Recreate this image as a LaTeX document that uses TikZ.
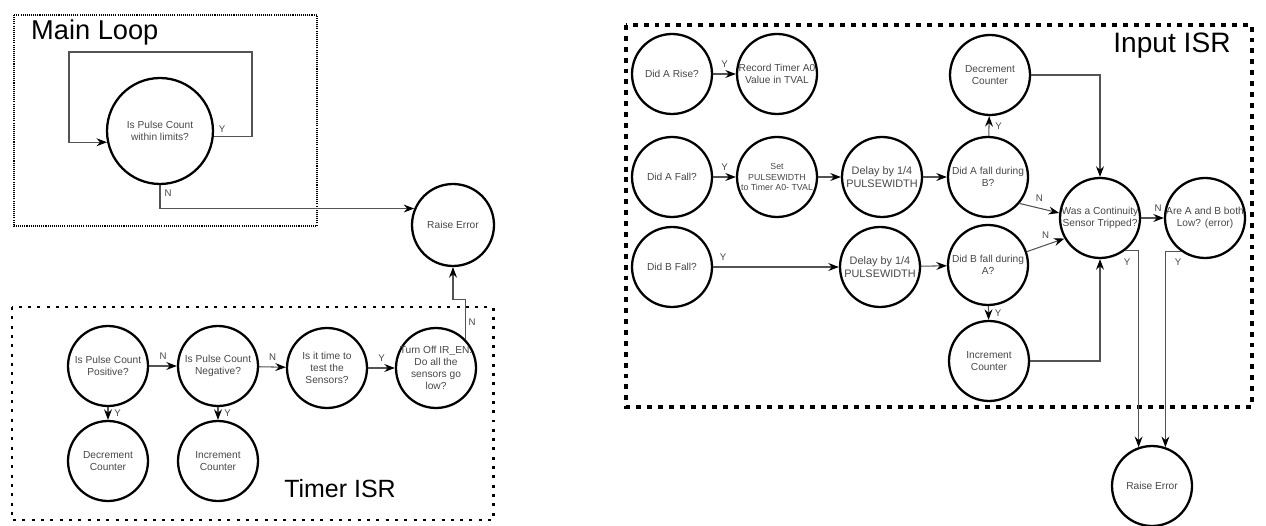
\documentclass[tikz,border=0pt]{standalone}
\usepackage{fontspec}
\setmainfont{Liberation Sans}
\usetikzlibrary{positioning, arrows.meta, calc}

\begin{document}
\begin{tikzpicture}[
    x=0.02cm, y=-0.02cm,
    font=\fontsize{5.8}{6.8}\selectfont,
    state/.style={circle, draw=black, line width=1.3pt, minimum size=1.6cm,
                  inner sep=-4pt, align=center, text=black!72},
    bigstate/.style={state, minimum size=2.12cm},
    arrow/.style={-{Stealth[length=6pt, width=4.5pt, inset=2pt, color=black]},
                  draw=gray!65!black, line width=0.6pt},
    yn/.style={font=\fontsize{5.5}{6}\selectfont, text=black!72},
    title/.style={font=\fontsize{16}{18}\selectfont},
    % Cajas punteadas
    thinbox/.style={draw, line width=0.6pt, dash pattern=on 0.6pt off 0.6pt},
    midbox/.style={draw, line width=1.7pt, dash pattern=on 1.7pt off 3.6pt},
    thickbox/.style={draw, line width=2.8pt, dash pattern=on 2.8pt off 3.4pt}
]
\useasboundingbox (0,0) rectangle (1266,526);

% --- Main Loop ---
\draw[thinbox] (14,15) rectangle (317,226);
\node[title, font=\fontsize{15.5}{18}\selectfont, anchor=west] (mltitle) at (25,32) {Main Loop};
\node[bigstate] (pulse) at (160,131) {Is Pulse Count\\within limits?};
\node[state, minimum size=1.64cm] (raiseA) at (453,225) {Raise Error};

\coordinate (loopR) at (252,52);
\coordinate (loopL) at (69,52);
\draw[arrow] (pulse.-6) -| (loopR) -- (loopL) |- (pulse.192);
\node[yn] (ymain) at (222,129) {Y};
\draw[arrow] (pulse.south) |- (raiseA.157);
\node[yn] (nmain) at (168,193) {N};

% --- Timer ISR ---
\draw[midbox] (12,307) rectangle (493,520);
\node[title, font=\fontsize{14.2}{17}\selectfont] (tititle) at (340,489) {Timer ISR};

\node[state] (pos) at (108,366) {Is Pulse Count\\Positive?};
\node[state] (neg) at (218,366) {Is Pulse Count\\Negative?};
\node[state] (time) at (327,368) {Is it time to\\test the\\Sensors?};
\node[state] (turnoff) at (436,368) {Turn Off IR\_EN.\\Do all the\\sensors go\\low?};
\node[state] (decA) at (108,461) {Decrement\\Counter};
\node[state] (incA) at (218,461) {Increment\\Counter};

\draw[arrow] (pos) -- (neg) node[yn, midway, above] {N};
\draw[arrow] (neg) -- (time) node[yn, midway, above] {N};
\draw[arrow] (time) -- (turnoff) node[yn, midway, above] {Y};
\draw[arrow] (pos) -- (decA) node[yn, midway, right] {Y};
\draw[arrow] (neg) -- (incA) node[yn, midway, right] {Y};
\draw[arrow] (turnoff.44) |- ($(raiseA.south)+(0,32)$) -- (raiseA.south);
\node[yn] (nturn) at (472,322) {N};

% --- Input ISR ---
\draw[thickbox] (626,25) rectangle (1252,407);
\node[title] (intitle) at (1172,46) {Input ISR};

\node[state] (arise) at (672,74) {Did A Rise?};
\node[state] (record) at (777,74) {Record Timer A0\\Value in TVAL};
\node[state] (afall) at (672,177) {Did A Fall?};
\node[state, font=\fontsize{5}{6.2}\selectfont] (setpw) at (777,177) {Set\\PULSEWIDTH\\to Timer A0- TVAL};
\node[state, font=\fontsize{6.2}{7.4}\selectfont] (delayA) at (882,177) {Delay by 1/4\\PULSEWIDTH};
\node[state] (bfall) at (672,267) {Did B Fall?};
\node[state, font=\fontsize{6.2}{7.4}\selectfont] (delayB) at (880,267) {Delay by 1/4\\PULSEWIDTH};
\node[state] (decB) at (990,75) {Decrement\\Counter};
\node[state] (afallb) at (988,177) {Did A fall during\\B?};
\node[state] (bfalla) at (988,265) {Did B fall during\\A?};
\node[state] (incB) at (989,361) {Increment\\Counter};
\node[state] (cont) at (1100,218) {Was a Continuity\\Sensor Tripped?};
\node[state] (arelow) at (1205,218) {Are A and B both\\Low? (error)};
\node[state] (raiseB) at (1152,486) {Raise Error};

\draw[arrow] (arise) -- (record) node[yn, midway, above] {Y};
\draw[arrow] (afall) -- (setpw) node[yn, midway, above] {Y};
\draw[arrow] (setpw) -- (delayA);
\draw[arrow] (delayA) -- (afallb);
\draw[arrow] (bfall) -- (delayB) node[yn, pos=0.08, above] {Y};
\draw[arrow] (delayB) -- (bfalla);
\draw[arrow] (afallb) -- (decB) node[yn, midway, right] {Y};
\draw[arrow] (bfalla) -- (incB) node[yn, midway, right] {Y};
\draw[arrow] (decB.east) -| (cont.north);
\draw[arrow] (incB.east) -| (cont.south);
\draw[arrow] (afallb.-40) -- (cont.173) node[yn, midway, above] {N};
\draw[arrow] (bfalla.19) -- (cont.210) node[yn, midway, above] {N};
\draw[arrow] (cont) -- (arelow) node[yn, pos=0.75, above] {N};
\draw[arrow] (cont.-52) -| (raiseB.109);
\node[yn] (ycont) at (1127,262) {Y};
\draw[arrow] (arelow.234) -| (raiseB.71);
\node[yn] (ylow) at (1178,262) {Y};
\end{tikzpicture}
\end{document}
